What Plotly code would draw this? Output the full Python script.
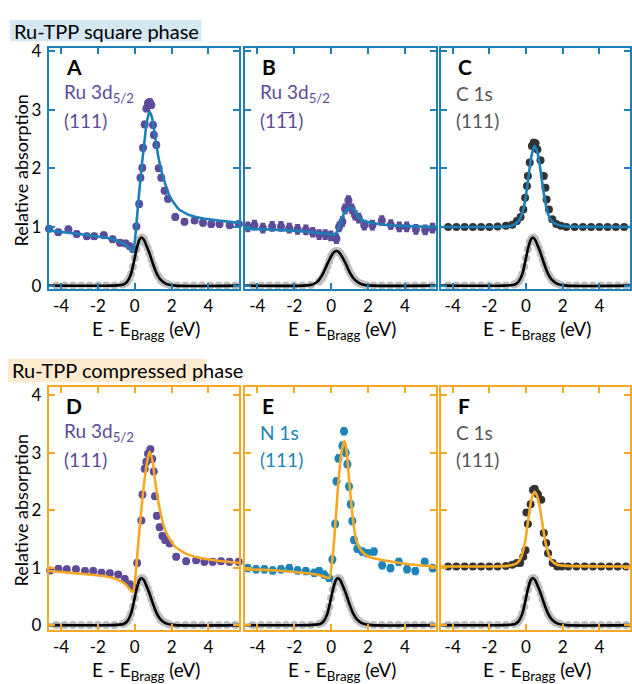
import plotly.graph_objects as go

# ---------------------------------------------------------------- data
# Bragg reflectivity reference (gray points + black fit), shared shape
REF_X = [-4.7, -4.25, -3.8, -3.35, -2.9, -2.45, -2.0, -1.55, -1.1, -0.65,
         -0.5, -0.4, -0.3, -0.2, -0.1, 0.0, 0.1, 0.2, 0.3, 0.4, 0.5, 0.6,
         0.7, 0.8, 0.9, 1.0, 1.1, 1.2, 1.3, 1.4, 1.5, 1.6, 1.75, 1.9,
         2.3, 2.75, 3.2, 3.65, 4.1, 4.55, 5.0, 5.45, 5.9]
REF_Y = [0.0, 0.0, 0.0, 0.0, 0.0, 0.0, 0.0, 0.0, 0.0, 0.02,
         0.04, 0.07, 0.12, 0.2, 0.32, 0.47, 0.62, 0.74, 0.8, 0.82, 0.79, 0.71,
         0.64, 0.55, 0.45, 0.36, 0.28, 0.2, 0.15, 0.1, 0.07, 0.05, 0.03, 0.01,
         0.0, 0.0, 0.0, 0.0, 0.0, 0.0, 0.0, 0.0, 0.0]
REF_FIT_X = [-4.7, -1.2, -0.6, -0.4, -0.2, -0.05, 0.1, 0.25, 0.37, 0.5,
             0.65, 0.8, 1.0, 1.2, 1.4, 1.7, 2.2, 5.7]
REF_FIT_Y = [0.0, 0.0, 0.02, 0.07, 0.2, 0.4, 0.62, 0.78, 0.82, 0.78,
             0.67, 0.55, 0.36, 0.2, 0.1, 0.03, 0.0, 0.0]

# reference for the (1-11) reflection: lower, broader
REF_B_Y = [0.0, 0.0, 0.0, 0.0, 0.0, 0.0, 0.0, 0.0, 0.01, 0.07,
           0.12, 0.18, 0.25, 0.33, 0.42, 0.5, 0.55, 0.58, 0.59, 0.58, 0.55, 0.5,
           0.45, 0.39, 0.31, 0.24, 0.18, 0.13, 0.1, 0.07, 0.05, 0.03, 0.02, 0.01,
           0.0, 0.0, 0.0, 0.0, 0.0, 0.0, 0.0, 0.0, 0.0]
REF_B_FIT_X = [-4.7, -1.5, -1.0, -0.7, -0.45, -0.2, 0.0, 0.15, 0.3, 0.45,
               0.6, 0.8, 1.0, 1.2, 1.4, 1.7, 2.2, 5.7]
REF_B_FIT_Y = [0.0, 0.0, 0.02, 0.08, 0.2, 0.37, 0.5, 0.57, 0.59, 0.56,
               0.49, 0.37, 0.23, 0.13, 0.07, 0.02, 0.0, 0.0]

# A: Ru 3d5/2 (111), square phase
A_X = [-4.65, -4.15, -3.6, -3.15, -2.6, -2.2, -1.68, -1.2, -0.8, -0.49,
       -0.27, -0.09, 0.09, 0.24, 0.31, 0.41, 0.45, 0.54, 0.63, 0.72, 0.81,
       0.9, 0.99, 1.04, 1.17, 1.3, 1.44, 1.62, 1.8, 2.2, 2.7, 3.25, 3.7,
       4.15, 4.6, 5.15, 5.65, 5.95]
A_Y = [0.97, 0.91, 0.96, 0.88, 0.84, 0.84, 0.86, 0.79, 0.73, 0.72,
       0.67, 0.62, 1.01, 1.39, 1.84, 2.01, 2.35, 2.75, 3.02, 3.11, 3.13,
       3.08, 2.74, 2.57, 2.4, 2.0, 1.84, 1.62, 1.48, 1.17, 1.09, 1.11, 1.07,
       1.05, 1.05, 1.03, 1.05, 0.95]
A_FIT_X = [-4.7, -3.5, -2.5, -1.6, -1.0, -0.5, -0.1, 0.05, 0.2, 0.35, 0.5,
           0.65, 0.8, 0.95, 1.1, 1.25, 1.4, 1.55, 1.9, 2.4, 3.0, 3.8, 4.8, 5.7]
A_FIT_Y = [0.94, 0.9, 0.86, 0.82, 0.77, 0.7, 0.58, 0.9, 1.45, 1.95, 2.38,
           2.78, 2.97, 2.85, 2.55, 2.25, 2.02, 1.84, 1.52, 1.3, 1.2, 1.14, 1.1, 1.07]

# B: Ru 3d5/2 (1-11), square phase
B_X = [-4.52, -4.16, -3.7, -3.2, -2.72, -2.27, -1.82, -1.37, -1.0, -0.65,
       -0.32, -0.02, 0.29, 0.43, 0.61, 0.76, 0.94, 1.12, 1.3, 1.5, 1.8,
       2.24, 2.75, 3.24, 3.7, 4.1, 4.6, 5.1, 5.5, 5.95]
B_Y = [1.0, 1.03, 0.98, 1.01, 1.01, 0.98, 0.96, 0.95, 0.91, 0.87,
       0.87, 0.85, 0.8, 1.0, 1.09, 1.31, 1.45, 1.31, 1.2, 1.15, 1.03,
       1.03, 1.11, 1.04, 1.0, 1.0, 0.96, 0.95, 0.98, 0.97]
B_FIT_X = [-4.7, -2.8, -1.0, -0.2, 0.1, 0.25, 0.4, 0.55, 0.7, 0.87, 1.05,
           1.2, 1.35, 1.5, 1.75, 2.06, 2.6, 3.2, 4.5, 5.7]
B_FIT_Y = [0.97, 0.95, 0.91, 0.88, 0.87, 0.89, 0.98, 1.12, 1.23, 1.3, 1.33,
           1.31, 1.24, 1.17, 1.11, 1.08, 1.05, 1.03, 1.01, 1.0]

# C: C 1s (111), square phase
C_X = [-4.7, -4.25, -3.8, -3.35, -2.9, -2.45, -2.0, -1.55, -1.1, -0.75,
       -0.5, -0.3, -0.15, -0.05, 0.05, 0.1, 0.2, 0.32, 0.42, 0.52, 0.62,
       0.79, 0.97, 1.06, 1.12, 1.25, 1.43, 1.65, 1.9, 2.2, 2.65, 3.1, 3.55,
       4.0, 4.45, 4.9, 5.35, 5.8]
C_Y = [1.0, 1.0, 1.0, 1.0, 1.0, 1.0, 1.0, 1.01, 1.02, 1.04,
       1.1, 1.17, 1.3, 1.5, 1.7, 1.87, 2.1, 2.38, 2.44, 2.43, 2.32,
       2.14, 1.87, 1.67, 1.47, 1.3, 1.13, 1.05, 1.02, 1.0, 1.0, 1.0, 1.0,
       1.0, 1.0, 1.0, 1.0, 1.0]
C_FIT_X = [-4.7, -2.0, -1.0, -0.6, -0.35, -0.15, 0.0, 0.15, 0.3, 0.45, 0.6,
           0.75, 0.9, 1.05, 1.2, 1.4, 1.7, 2.2, 5.7]
C_FIT_Y = [1.0, 1.0, 1.01, 1.05, 1.13, 1.3, 1.55, 1.9, 2.22, 2.38, 2.3,
           2.05, 1.72, 1.42, 1.22, 1.1, 1.04, 1.01, 1.0]

# D: Ru 3d5/2 (111), compressed phase
D_X = [-4.59, -4.14, -3.69, -3.19, -2.7, -2.25, -1.8, -1.35, -0.9, -0.54,
       -0.27, -0.09, 0.13, 0.36, 0.42, 0.54, 0.63, 0.72, 0.85, 0.95, 1.03,
       1.1, 1.2, 1.35, 1.5, 1.65, 1.89, 2.25, 2.79, 3.33, 3.78, 4.23, 4.68,
       5.14, 5.64]
D_Y = [0.95, 0.98, 0.97, 0.97, 0.94, 0.94, 0.91, 0.9, 0.88, 0.8,
       0.71, 0.66, 1.08, 1.82, 2.27, 2.72, 2.84, 2.98, 3.06, 2.89, 2.67,
       2.24, 1.9, 1.7, 1.55, 1.48, 1.42, 1.19, 1.11, 1.13, 1.1, 1.1, 1.11,
       1.1, 1.1]
D_FIT_X = [-4.7, -3.5, -2.5, -1.6, -1.0, -0.5, -0.1, 0.05, 0.2, 0.35, 0.5,
           0.65, 0.8, 0.95, 1.1, 1.25, 1.4, 1.6, 1.8, 2.2, 2.8, 3.5, 4.5, 5.7]
D_FIT_Y = [0.94, 0.91, 0.88, 0.85, 0.8, 0.71, 0.57, 0.9, 1.45, 1.98, 2.45,
           2.8, 3.02, 2.88, 2.52, 2.2, 1.95, 1.7, 1.55, 1.36, 1.24, 1.17, 1.12, 1.08]

# E: N 1s (111), compressed phase
E_X = [-4.52, -4.07, -3.62, -3.17, -2.72, -2.27, -1.82, -1.37, -0.92, -0.65,
       -0.38, -0.11, 0.07, 0.22, 0.29, 0.4, 0.61, 0.7, 0.79, 0.88, 0.97,
       1.06, 1.15, 1.24, 1.42, 1.69, 1.96, 2.32, 2.77, 3.22, 3.67, 4.12,
       4.57, 5.08, 5.51]
E_Y = [0.99, 0.97, 0.97, 0.95, 0.97, 0.99, 0.95, 0.94, 0.91, 0.94,
       0.88, 0.82, 1.14, 1.76, 2.5, 2.9, 3.12, 3.37, 3.0, 2.8, 2.41,
       2.1, 1.81, 1.48, 1.33, 1.28, 1.25, 1.28, 1.04, 0.99, 1.1, 0.97,
       0.94, 1.1, 0.99]
E_FIT_X = [-4.7, -3.0, -1.9, -1.0, -0.5, -0.1, 0.05, 0.2, 0.35, 0.5, 0.62,
           0.72, 0.83, 0.97, 1.1, 1.2, 1.33, 1.45, 1.6, 1.8, 2.05, 2.5, 3.0,
           4.2, 5.7]
E_FIT_Y = [0.97, 0.95, 0.92, 0.89, 0.86, 0.82, 1.1, 1.62, 2.3, 2.85, 3.1,
           3.2, 3.06, 2.55, 2.1, 1.8, 1.53, 1.4, 1.31, 1.24, 1.19, 1.15, 1.12,
           1.06, 1.02]

# F: C 1s (111), compressed phase
F_X = [-4.7, -4.25, -3.8, -3.35, -2.9, -2.45, -2.0, -1.55, -1.1, -0.75,
       -0.5, -0.32, -0.15, -0.03, 0.02, 0.1, 0.25, 0.38, 0.47, 0.56, 0.65,
       0.83, 0.97, 1.1, 1.2, 1.45, 1.7, 1.95, 2.3, 2.75, 3.2, 3.65, 4.1,
       4.55, 5.0, 5.45, 5.9]
F_Y = [1.02, 1.02, 1.02, 1.02, 1.02, 1.02, 1.02, 1.02, 1.03, 1.05,
       1.08, 1.08, 1.19, 1.3, 1.96, 1.76, 2.1, 2.35, 2.37, 2.3, 2.27,
       2.18, 1.6, 1.43, 1.25, 1.08, 1.02, 1.02, 1.02, 1.02, 1.02, 1.02, 1.02,
       1.02, 1.02, 1.02, 1.02]
F_FIT_X = [-4.7, -2.0, -1.0, -0.6, -0.35, -0.15, 0.0, 0.15, 0.3, 0.47, 0.6,
           0.75, 0.9, 1.05, 1.2, 1.4, 1.7, 2.2, 5.7]
F_FIT_Y = [1.02, 1.02, 1.03, 1.06, 1.13, 1.3, 1.55, 1.9, 2.2, 2.32, 2.25,
           2.05, 1.75, 1.45, 1.26, 1.12, 1.05, 1.03, 1.02]

X_TICKS = [-4, -2, 0, 2, 4]
X_TICK_LABELS = ["-4", "-2", "0", "2", "4"]
Y_TICKS = [0, 1, 2, 3, 4]
Y_TICK_LABELS = ["0", "1", "2", "3", "4"]

PANEL_LETTERS = ["A", "B", "C", "D", "E", "F"]
PANEL_LINE1 = ["Ru 3d<sub>5/2</sub>", "Ru 3d<sub>5/2</sub>", "C 1s",
               "Ru 3d<sub>5/2</sub>", "N 1s", "C 1s"]
PANEL_LINE2 = ["(111)", "(11\u03051)", "(111)", "(111)", "(111)", "(111)"]
ROW_TITLES = ["Ru-TPP square phase", "Ru-TPP compressed phase"]
X_TITLE = "E - E<sub>Bragg</sub> (eV)"
Y_TITLE = "Relative absorption"

# ---------------------------------------------------------------- style
W, H = 632, 684
FONT = "Lato"
BLUE = "#1b80b8"
ORANGE = "#f7a823"
PURPLE = "#5d4a98"
DARK = "#333333"
GRAY = "#bdbdbd"
N_BLUE = "#1d84ba"
LABEL_GRAY = "#555555"


def fx(px):
    return px / W


def fy(py):
    return 1 - py / H


COL_PX = [(49, 240), (246, 437), (442, 632)]
ROW_PX = [(41, 287), (387, 635)]
Y_RANGES = [[-0.06, 4.05], [-0.085, 4.14]]
X_RANGE = [-4.66, 5.67]
FRAME = [BLUE, ORANGE]

panels = [
    # (points x, points y, point colour, errorbar, fit x, fit y, ref y, ref fit x, ref fit y)
    (A_X, A_Y, PURPLE, 0.04, A_FIT_X, A_FIT_Y, REF_Y, REF_FIT_X, REF_FIT_Y),
    (B_X, B_Y, PURPLE, 0.07, B_FIT_X, B_FIT_Y, REF_B_Y, REF_B_FIT_X, REF_B_FIT_Y),
    (C_X, C_Y, DARK, 0.0, C_FIT_X, C_FIT_Y, REF_Y, REF_FIT_X, REF_FIT_Y),
    (D_X, D_Y, PURPLE, 0.04, D_FIT_X, D_FIT_Y, REF_Y, REF_FIT_X, REF_FIT_Y),
    (E_X, E_Y, N_BLUE, 0.05, E_FIT_X, E_FIT_Y, REF_Y, REF_FIT_X, REF_FIT_Y),
    (F_X, F_Y, DARK, 0.0, F_FIT_X, F_FIT_Y, REF_Y, REF_FIT_X, REF_FIT_Y),
]
LABEL_COLORS = [PURPLE, PURPLE, LABEL_GRAY, PURPLE, N_BLUE, LABEL_GRAY]

fig = go.Figure()
layout = dict(
    width=W, height=H,
    margin=dict(l=0, r=0, t=0, b=0),
    paper_bgcolor="white", plot_bgcolor="white",
    showlegend=False,
    font=dict(family=FONT, size=17, color="black"),
)
annotations = []
shapes = []

for i, (px_, py_, pc, err, fxs, fys, ry, rfx, rfy) in enumerate(panels):
    row, col = divmod(i, 3)
    n = i + 1
    xa = "x" if n == 1 else f"x{n}"
    ya = "y" if n == 1 else f"y{n}"
    frame = FRAME[row]

    fig.add_trace(go.Scatter(
        x=REF_X, y=ry, mode="markers", xaxis=xa, yaxis=ya, cliponaxis=False,
        marker=dict(color=GRAY, size=8, line=dict(width=0))))
    pt = dict(x=px_, y=py_, mode="markers", xaxis=xa, yaxis=ya, cliponaxis=False,
              marker=dict(color=pc, size=8, line=dict(width=0)))
    if err > 0:
        pt["error_y"] = dict(type="constant", value=err, color=pc,
                             thickness=2.5, width=2.5)
    fig.add_trace(go.Scatter(**pt))
    fig.add_trace(go.Scatter(
        x=rfx, y=rfy, mode="lines", xaxis=xa, yaxis=ya,
        line=dict(color="black", width=2.6, shape="spline", smoothing=0.6)))
    fig.add_trace(go.Scatter(
        x=fxs, y=fys, mode="lines", xaxis=xa, yaxis=ya,
        line=dict(color=frame, width=2.6, shape="spline", smoothing=0.5)))

    x0, x1 = COL_PX[col]
    y0, y1 = ROW_PX[row]
    axis_common = dict(
        showline=True, linecolor=frame, linewidth=2.2, mirror="ticks",
        ticks="inside", ticklen=6, tickwidth=2, tickcolor=frame,
        showgrid=False, zeroline=False, fixedrange=True,
        tickfont=dict(family=FONT, size=17, color="black"),
    )
    layout["xaxis" if n == 1 else f"xaxis{n}"] = dict(
        axis_common, domain=[fx(x0), fx(x1)], range=X_RANGE, anchor=ya,
        tickmode="array", tickvals=X_TICKS, ticktext=X_TICK_LABELS, ticklabelstandoff=0)
    layout["yaxis" if n == 1 else f"yaxis{n}"] = dict(
        axis_common, domain=[fy(y1), fy(y0)], range=Y_RANGES[row], anchor=xa,
        tickmode="array", tickvals=Y_TICKS, ticktext=Y_TICK_LABELS,
        showticklabels=(col == 0), ticklabelstandoff=2)

    # panel letter and edge labels
    annotations.append(dict(
        text=f"<b>{PANEL_LETTERS[i]}</b>", xref="paper", yref="paper",
        x=fx(x0 + 15), y=fy(y0 + 19), xanchor="left", yanchor="middle",
        showarrow=False, font=dict(family=FONT, size=21, color="black")))
    annotations.append(dict(
        text=PANEL_LINE1[i], xref="paper", yref="paper",
        x=fx(x0 + 13), y=fy(y0 + 46), xanchor="left", yanchor="middle",
        showarrow=False, font=dict(family=FONT, size=19, color=LABEL_COLORS[i])))
    annotations.append(dict(
        text=PANEL_LINE2[i], xref="paper", yref="paper",
        x=fx(x0 + 13), y=fy(y0 + 74), xanchor="left", yanchor="middle",
        showarrow=False, font=dict(family=FONT, size=19, color=LABEL_COLORS[i])))
    # x axis title
    annotations.append(dict(
        text=X_TITLE, xref="paper", yref="paper",
        x=fx((x0 + x1) / 2 + 2), y=fy(y1 + 42), xanchor="center", yanchor="middle",
        showarrow=False, font=dict(family=FONT, size=19, color="black")))

# y axis titles
for row in range(2):
    y0, y1 = ROW_PX[row]
    annotations.append(dict(
        text=Y_TITLE, xref="paper", yref="paper", textangle=-90,
        x=fx(21), y=fy((y0 + y1) / 2 + 2), xanchor="center", yanchor="middle",
        showarrow=False, font=dict(family=FONT, size=18, color="black")))

# row headers with tinted background
ROW_HEADER_BOX = [(10, 12, 202, 34), (8, 358, 207, 382)]
ROW_HEADER_BG = ["#d3e8f3", "#fdeacf"]
for row in range(2):
    bx0, by0, bx1, by1 = ROW_HEADER_BOX[row]
    shapes.append(dict(type="rect", xref="paper", yref="paper",
                       x0=fx(bx0), x1=fx(bx1), y0=fy(by1), y1=fy(by0),
                       fillcolor=ROW_HEADER_BG[row], line=dict(width=0), layer="below"))
    annotations.append(dict(
        text=ROW_TITLES[row], xref="paper", yref="paper",
        x=fx(bx0 + 3), y=fy((by0 + by1) / 2), xanchor="left", yanchor="middle",
        height=by1 - by0, valign="middle", borderpad=0,
        showarrow=False, font=dict(family=FONT, size=20, color="black")))

layout["annotations"] = annotations
layout["shapes"] = shapes
fig.update_layout(**layout)
fig.write_html("out.html")
